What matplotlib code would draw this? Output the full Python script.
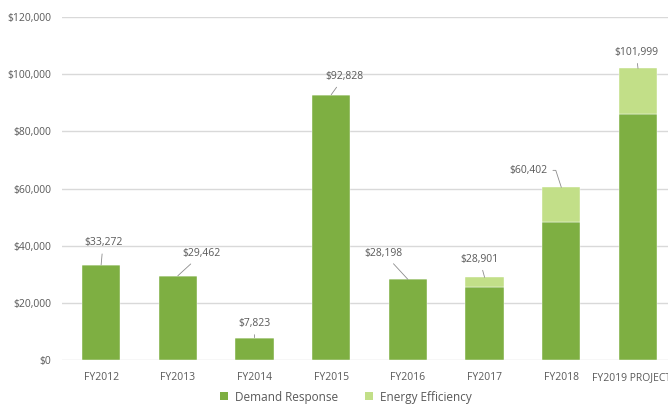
import matplotlib
matplotlib.use("Agg")
import matplotlib.pyplot as plt
from matplotlib.patches import Patch

categories = ["FY2012", "FY2013", "FY2014", "FY2015", "FY2016", "FY2017", "FY2018", "FY2019 PROJECTED"]
demand_response = [33272, 29462, 7823, 92828, 28198, 25700, 48400, 86000]
totals = [33272, 29462, 7823, 92828, 28198, 28901, 60402, 101999]
energy_efficiency = [t - d for t, d in zip(totals, demand_response)]
total_labels = ["$33,272", "$29,462", "$7,823", "$92,828", "$28,198", "$28,901", "$60,402", "$101,999"]
yticks = [0, 20000, 40000, 60000, 80000, 100000, 120000]
ytick_labels = ["$0", "$20,000", "$40,000", "$60,000", "$80,000", "$100,000", "$120,000"]

# label offsets (pixels) from the bar top
offsets = [(2, 22), (24, 22), (0, 14), (13, 18), (-24, 26), (-5, 18), (-33, 17), (-2, 16)]

DARK = "#7EAF42"
LIGHT = "#C2DF88"
TXT = "#595959"

plt.rcParams["font.family"] = ["Open Sans", "DejaVu Sans"]

fig = plt.figure(figsize=(6.68, 4.05), dpi=100)
spacing = 76.7
left_px = 62
xl, xr = -0.51, 7.5
width_px = (xr - xl) * spacing
ax = fig.add_axes([left_px / 668, 45 / 405, width_px / 668, (360 - 17) / 405])

x = list(range(len(categories)))
ax.bar(x, demand_response, width=0.5, color=DARK, edgecolor="white", linewidth=0.3, zorder=3)
ax.bar(x, energy_efficiency, bottom=demand_response, width=0.5, color=LIGHT,
       edgecolor="white", linewidth=0.3, zorder=3)

ax.set_xlim(xl, xr)
ax.set_ylim(0, 120000)
ax.set_yticks(yticks)
ax.set_yticklabels(ytick_labels)
ax.set_xticks(x)
ax.set_xticklabels(categories)
ax.grid(axis="y", color="#D9D9D9", linewidth=1.0, zorder=0)
for s in ax.spines.values():
    s.set_visible(False)
ax.tick_params(axis="both", length=0, colors=TXT, labelsize=7.5)
ax.tick_params(axis="x", pad=9)
ax.tick_params(axis="y", pad=8)

for i, (t, lab, off) in enumerate(zip(totals, total_labels, offsets)):
    if i == 6:
        relpos = (1.0, 0.5)
        conn = "angle,angleA=0,angleB=108,rad=0"
    else:
        relpos = (0.5, 0.5)
        conn = "arc3"
    ax.annotate(lab, xy=(i, t), xytext=off, textcoords="offset pixels",
                ha="center", va="center", fontsize=7.5, color=TXT,
                arrowprops=dict(arrowstyle="-", color="#8C8C8C", lw=0.6,
                                shrinkA=2, shrinkB=0, relpos=relpos,
                                connectionstyle=conn),
                annotation_clip=False)

handles = [Patch(facecolor=DARK, label="Demand Response"),
           Patch(facecolor=LIGHT, label="Energy Efficiency")]
fig.legend(handles=handles, loc="center", bbox_to_anchor=(346 / 668, 1 - 397 / 405),
           ncol=2, frameon=False, fontsize=8.5, labelcolor=TXT,
           handlelength=0.65, handleheight=0.65, handletextpad=0.6, columnspacing=2.3)

fig.savefig("out.png", dpi=100)
